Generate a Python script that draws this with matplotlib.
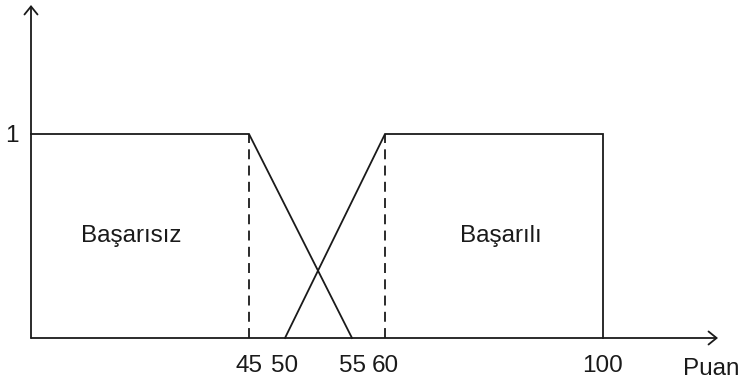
import numpy as np
import matplotlib
matplotlib.use("Agg")
import matplotlib.pyplot as plt

# membership functions (Puan -> degree)
fail_x = [0, 45, 55]
fail_y = [1, 1, 0]
pass_x = [50, 60, 100, 100]
pass_y = [0, 1, 1, 0]
dashed_x = [45, 60]
tick_vals = [45, 50, 55, 60, 100]
tick_labels = ["45", "50", "55", "60", "100"]
set_names = ["Başarısız", "Başarılı"]

plt.rcParams['font.family'] = ['Liberation Sans', 'DejaVu Sans']

# the original sketch is not to scale -> piecewise linear x scale
kv = np.array([0, 45, 50, 55, 60, 100], float)
kp = np.array([31, 249, 285, 352, 385, 603], float)


def _pw(v, a, b):
	v = np.asarray(v, float)
	out = np.interp(v, a, b)
	s0 = (b[1] - b[0]) / (a[1] - a[0])
	s1 = (b[-1] - b[-2]) / (a[-1] - a[-2])
	out = np.where(v < a[0], b[0] + (v - a[0]) * s0, out)
	out = np.where(v > a[-1], b[-1] + (v - a[-1]) * s1, out)
	return out


def fwd(v):
	return _pw(v, kv, kp)


def inv(p):
	return _pw(p, kp, kv)


W, H = 742, 383
y0_px, y1_px = 45, 249  # pixel heights (from bottom) of degree 0 and 1
unit = y1_px - y0_px

fig = plt.figure(figsize=(W / 100, H / 100), dpi=100)
ax = fig.add_axes([0, 0, 1, 1])
ax.set_xscale('function', functions=(fwd, inv))
ax.set_xlim(float(inv(0)), float(inv(W)))
ax.set_ylim(-y0_px / unit, (H - y0_px) / unit)

col = '#1a1a1a'
lw = 1.3
ax.plot(fail_x, fail_y, color=col, lw=lw, solid_joinstyle='miter')
ax.plot(pass_x, pass_y, color=col, lw=lw, solid_joinstyle='miter')
for xv in dashed_x:
	ax.plot([xv, xv], [0, 1], color=col, lw=lw, linestyle=(0, (5.5, 3.5)))

# axes with open arrowheads
x_tip = float(inv(718))
y_tip = (H - 5 - y0_px) / unit
ap = dict(arrowstyle='->,head_length=0.58,head_width=0.47', lw=lw, color=col,
	shrinkA=0, shrinkB=0, mutation_scale=10)
ax.annotate('', xy=(x_tip, 0), xytext=(0, 0), arrowprops=ap)
ax.annotate('', xy=(0, y_tip), xytext=(0, 0), arrowprops=ap)

fs = 17.5
for s in ax.spines.values():
	s.set_color('none')
ax.spines['bottom'].set_position(('data', 0))
ax.spines['left'].set_position(('data', 0))
ax.set_xticks(tick_vals)
ax.set_xticklabels(tick_labels, fontsize=fs, color=col)
ax.set_yticks([1])
ax.set_yticklabels(["1"], fontsize=fs, color=col)
ax.tick_params(axis='x', length=0, pad=12.5)
ax.tick_params(axis='y', length=0, pad=9)
ax.xaxis.set_minor_locator(matplotlib.ticker.NullLocator())

ax.annotate('Puan', xy=(x_tip, 0), xytext=(-7, -31), textcoords='offset pixels',
	ha='center', va='center', fontsize=fs, color=col)

ax.text(float(inv(131)), 0.5, set_names[0], ha='center', va='center', fontsize=fs, color=col)
ax.text(float(inv(501)), 0.5, set_names[1], ha='center', va='center', fontsize=fs, color=col)

fig.savefig('out.png', dpi=100, facecolor='white')
